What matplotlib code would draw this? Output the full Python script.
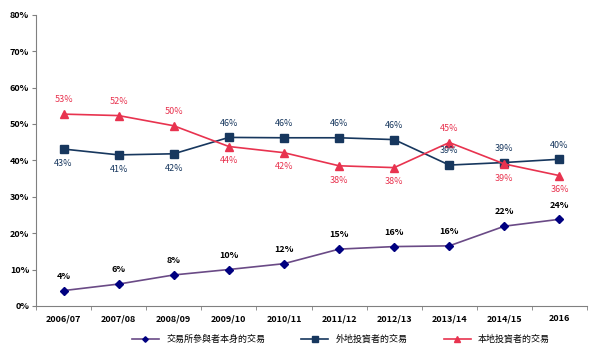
import matplotlib.pyplot as plt
import numpy as np

plt.rcParams['font.family'] = ['Noto Sans CJK TC', 'DejaVu Sans']

years = ["2006/07", "2007/08", "2008/09", "2009/10", "2010/11",
         "2011/12", "2012/13", "2013/14", "2014/15", "2016"]
participants = [4.2, 6.0, 8.5, 10.0, 11.6, 15.6, 16.3, 16.5, 21.9, 23.8]
overseas = [43.1, 41.5, 41.8, 46.3, 46.2, 46.2, 45.7, 38.7, 39.4, 40.3]
local = [52.7, 52.3, 49.5, 43.8, 42.1, 38.5, 38.0, 44.9, 39.0, 35.8]

participants_lbl = ["4%", "6%", "8%", "10%", "12%", "15%", "16%", "16%", "22%", "24%"]
overseas_lbl = ["43%", "41%", "42%", "46%", "46%", "46%", "46%", "39%", "39%", "40%"]
local_lbl = ["53%", "52%", "50%", "44%", "42%", "38%", "38%", "45%", "39%", "36%"]

# label placement: +1 above, -1 below
overseas_pos = [-1, -1, -1, 1, 1, 1, 1, 1, 1, 1]
local_pos = [1, 1, 1, -1, -1, -1, -1, 1, -1, -1]

names = ["交易所參與者本身的交易", "外地投資者的交易", "本地投資者的交易"]

c_purple = "#6a4a86"
c_diamond = "#000080"
c_blue = "#17375e"
c_red = "#e8334f"

fig = plt.figure(figsize=(5.9, 3.52), dpi=100)
ax = fig.add_axes([0.061, 0.131, 0.934, 0.827])
x = np.arange(len(years))

ax.plot(x, participants, color=c_purple, lw=1.2, marker="D", ms=4,
        mfc=c_diamond, mec=c_diamond, label=names[0])
ax.plot(x, overseas, color=c_blue, lw=1.2, marker="s", ms=5.5,
        mfc=c_blue, mec=c_blue, label=names[1])
ax.plot(x, local, color=c_red, lw=1.2, marker="^", ms=5.5,
        mfc=c_red, mec=c_red, label=names[2])

for i in x:
    ax.annotate(participants_lbl[i], (i, participants[i]), xytext=(0, 7),
                textcoords="offset points", ha="center", va="bottom",
                fontsize=6.5, fontweight="bold", color="black")
    ax.annotate(overseas_lbl[i], (i, overseas[i]),
                xytext=(0, 7 * overseas_pos[i]), textcoords="offset points",
                ha="center", va="bottom" if overseas_pos[i] > 0 else "top",
                fontsize=6.5, color=c_blue)
    ax.annotate(local_lbl[i], (i, local[i]),
                xytext=(0, 7 * local_pos[i]), textcoords="offset points",
                ha="center", va="bottom" if local_pos[i] > 0 else "top",
                fontsize=6.5, color=c_red)

ax.set_xlim(-0.5, len(years) - 0.5)
ax.set_ylim(0, 80)
ax.set_yticks(range(0, 81, 10))
ax.set_yticklabels([f"{v}%" for v in range(0, 81, 10)], fontsize=6.5, fontweight="bold")
ax.set_xticks(x)
ax.set_xticklabels(years, fontsize=6.5, fontweight="bold")
ax.set_xticks(np.arange(-0.5, len(years)), minor=True)
ax.tick_params(axis="x", which="major", length=0, pad=6)
ax.tick_params(axis="x", which="minor", length=3, color="#808080")
ax.tick_params(axis="y", length=3, color="#808080", pad=2)

for s in ["top", "right"]:
    ax.spines[s].set_visible(False)
ax.spines["left"].set_color("#808080")
ax.spines["bottom"].set_color("#808080")

fig.legend(loc="lower center", bbox_to_anchor=(0.578, 0.0), ncol=3, frameon=False,
           fontsize=6.5, handlelength=3, columnspacing=4, markerscale=0.7)

fig.savefig("out.png", dpi=100)
